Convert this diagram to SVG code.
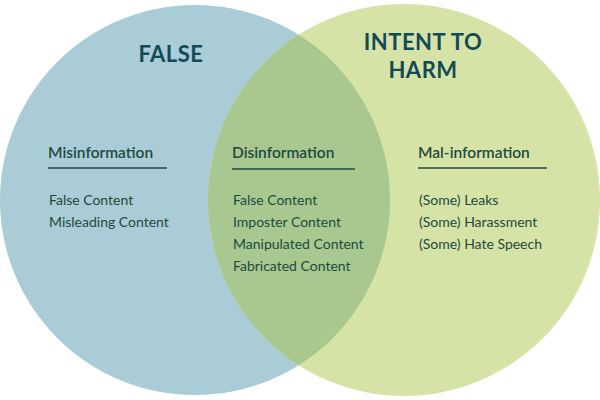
<svg xmlns="http://www.w3.org/2000/svg" width="600" height="400" viewBox="0 0 600 400">
<style>
.t{font-family:"Lato","Noto Sans",sans-serif;fill:#1e4a40}
.h{font-family:"Lato","Noto Sans",sans-serif;font-weight:bold;font-size:22px;fill:#124a57;text-anchor:middle;letter-spacing:0.5px}
.s{font-size:15.5px;font-weight:600}
.i{font-size:14px}
line{stroke:#1e4a40;stroke-width:1.3}
</style>
<rect width="600" height="400" fill="#fff"/>
<g id="circles">
<circle id="false" cx="195" cy="200" r="195" fill="#a9ccd6"/>
<circle id="harm" cx="404" cy="200" r="196" fill="#d6e3a6"/>
<clipPath id="cl"><circle cx="195" cy="200" r="195"/></clipPath>
<circle id="overlap" cx="404" cy="200" r="196" fill="#a8c890" clip-path="url(#cl)"/>
</g>
<g id="titles">
<text class="h" x="171" y="62">FALSE</text>
<text class="h" x="423" y="50">INTENT TO</text>
<text class="h" x="423" y="78">HARM</text>
</g>
<g id="mis">
<text class="t s" x="48" y="158">Misinformation</text>
<line x1="48" y1="168" x2="167" y2="168"/>
<text class="t i" x="49" y="205">False Content</text>
<text class="t i" x="49" y="227">Misleading Content</text>
</g>
<g id="dis">
<text class="t s" x="232" y="158">Disinformation</text>
<line x1="232" y1="169" x2="355" y2="169"/>
<text class="t i" x="233" y="205">False Content</text>
<text class="t i" x="233" y="227">Imposter Content</text>
<text class="t i" x="233" y="249">Manipulated Content</text>
<text class="t i" x="233" y="271">Fabricated Content</text>
</g>
<g id="mal">
<text class="t s" x="418" y="158">Mal-information</text>
<line x1="418" y1="168" x2="547" y2="168"/>
<text class="t i" x="419" y="205">(Some) Leaks</text>
<text class="t i" x="419" y="227">(Some) Harassment</text>
<text class="t i" x="419" y="249">(Some) Hate Speech</text>
</g>
<g id="connectors"/>
</svg>
